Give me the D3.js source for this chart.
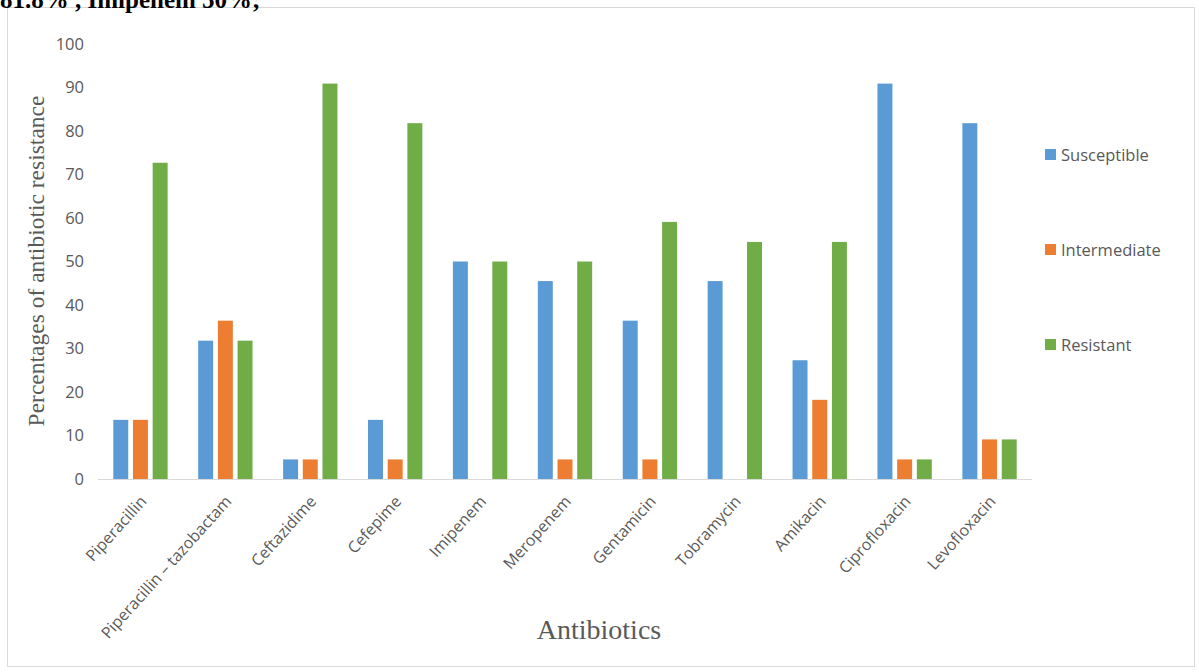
<!DOCTYPE html>
<html>
<head>
<meta charset="utf-8">
<script src="https://cdn.jsdelivr.net/npm/d3@7"></script>
<style>
html,body{margin:0;padding:0;background:#fff;overflow:hidden;}
svg{display:block;}
</style>
</head>
<body>
<svg id="chart" width="1199" height="672"></svg>
<script>
const categories = ["Piperacillin","Piperacillin – tazobactam","Ceftazidime","Cefepime","Imipenem","Meropenem","Gentamicin","Tobramycin","Amikacin","Ciprofloxacin","Levofloxacin"];
const seriesNames = ["Susceptible","Intermediate","Resistant"];
const seriesColors = ["#5B9BD5","#ED7D31","#70AD47"];
const susceptible = [13.6,31.8,4.5,13.6,50,45.5,36.4,45.5,27.3,90.9,81.8];
const intermediate = [13.6,36.4,4.5,4.5,0,4.5,4.5,0,18.2,4.5,9.1];
const resistant = [72.7,31.8,90.9,81.8,50,50,59.1,54.5,54.5,4.5,9.1];
const yTicks = [0,10,20,30,40,50,60,70,80,90,100];

const seriesValues = [susceptible, intermediate, resistant];
const svg = d3.select("#chart");

// frame
svg.append("rect").attr("x",7.5).attr("y",7.5).attr("width",1187).attr("height",659)
  .attr("fill","#fff").attr("stroke","#d9d9d9").attr("stroke-width",1);

// header text fragment from the document above the figure (cut off at the top, as in the source)
svg.append("text").attr("x",0).attr("y",8)
  .attr("font-family","'Liberation Serif','Times New Roman',serif")
  .attr("font-size",25).attr("font-weight","bold").attr("fill","#000")
  .text("81.8% , Imipenem 50%;");

const x0 = d3.scaleBand().domain(categories).range([98,1032]).paddingInner(0.36).paddingOuter(0.18);
const x1 = d3.scaleBand().domain(seriesNames).range([0,x0.bandwidth()]).paddingInner(0.24);
const y = d3.scaleLinear().domain([0,100]).range([479,44]);

// y axis labels
const yAxis = d3.axisLeft(y).tickValues(yTicks).tickSize(0).tickPadding(0);
const ya = svg.append("g").attr("transform","translate(84,0)").call(yAxis);
ya.select(".domain").remove();
ya.selectAll("text").attr("font-family","'Open Sans',sans-serif").attr("font-size",16.5).attr("fill","#595959");

// bars
const groups = svg.append("g").selectAll("g").data(categories).join("g")
  .attr("transform",d=>`translate(${x0(d)},0)`);
groups.selectAll("rect").data((d,i)=>seriesNames.map((s,j)=>({s, v:seriesValues[j][i], c:seriesColors[j]})))
  .join("rect")
  .attr("x",d=>x1(d.s)).attr("width",x1.bandwidth())
  .attr("y",d=>y(d.v)).attr("height",d=>y(0)-y(d.v))
  .attr("fill",d=>d.c);

// x axis
const xAxis = d3.axisBottom(x0).tickSize(0).tickPadding(0);
const xa = svg.append("g").attr("transform",`translate(0,${y(0)})`).call(xAxis);
xa.select(".domain").attr("stroke","#d9d9d9").attr("d","M98,0.5H1032");
xa.selectAll("text")
  .attr("font-family","'Open Sans',sans-serif").attr("font-size",16).attr("fill","#595959")
  .attr("text-anchor","end").attr("dy",null)
  .attr("transform","translate(7,23) rotate(-48)");

// axis titles
svg.append("text").attr("transform","translate(44,261) rotate(-90)")
  .attr("text-anchor","middle")
  .attr("font-family","'Liberation Serif','Times New Roman',serif")
  .attr("font-size",23.5).attr("fill","#595959")
  .text("Percentages of antibiotic resistance");
svg.append("text").attr("x",599).attr("y",639).attr("text-anchor","middle")
  .attr("font-family","'Liberation Serif','Times New Roman',serif")
  .attr("font-size",28).attr("fill","#595959")
  .text("Antibiotics");

// legend
const legY = [155,250,345];
const leg = svg.append("g").selectAll("g").data(seriesNames).join("g")
  .attr("transform",(d,i)=>`translate(1045,${legY[i]})`);
leg.append("rect").attr("x",0).attr("y",-6).attr("width",11).attr("height",11).attr("fill",(d,i)=>seriesColors[i]);
leg.append("text").attr("x",16).attr("y",0).attr("dy","0.35em")
  .attr("font-family","'Open Sans',sans-serif").attr("font-size",16.5).attr("fill","#595959")
  .text(d=>d);
</script>
</body>
</html>
